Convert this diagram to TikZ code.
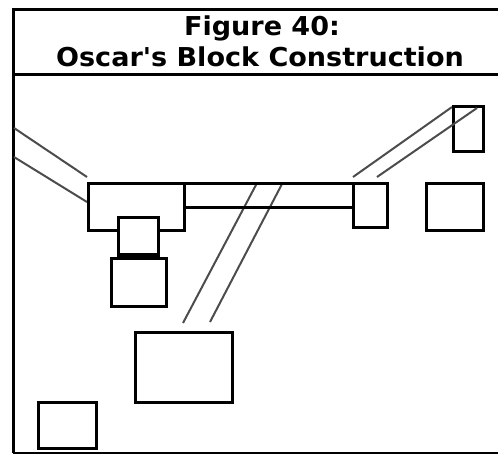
\documentclass[tikz,border=0pt]{standalone}
\usepackage{fontspec}
\newfontfamily\titlefont{DejaVu Sans}
\begin{document}
\begin{tikzpicture}[x=1pt,y=-1pt,
  blk/.style={draw=black,line width=3pt,fill=white,inner sep=0pt,outer sep=0pt,rectangle},
  wire/.style={draw=black!70,line width=2pt},
  ttl/.style={font=\titlefont\bfseries\fontsize{26}{30}\selectfont,inner sep=0pt,xscale=1.04,transform shape}]
\useasboundingbox (0,0) rectangle (498,455);
% frame
\draw[line width=3pt] (520,9) -- (13,9) -- (13,453);
\draw[line width=2pt] (13,453) -- (520,453);
\draw[line width=3pt] (13,74) -- (520,74);
% title
\node[ttl,anchor=base] (t1) at (262,35) {Figure 40:};
\node[ttl,anchor=base] (t2) at (260,66) {Oscar's Block Construction};
% connectors (drawn first, below boxes)
\coordinate (l1a) at (14,128); \coordinate (l1b) at (87,177);
\coordinate (l2a) at (14,157); \coordinate (l2b) at (87,202);
\draw[wire] (l1a) -- (l1b);
\draw[wire] (l2a) -- (l2b);
\coordinate (c1a) at (257,183); \coordinate (c1b) at (183,323);
\coordinate (c2a) at (282,184); \coordinate (c2b) at (210,322);
\draw[wire] (c1a) -- (c1b);
\draw[wire] (c2a) -- (c2b);
\coordinate (r1a) at (353,177); \coordinate (r1b) at (452,107);
\coordinate (r2a) at (377,177); \coordinate (r2b) at (477,108);
\draw[wire] (r1a) -- (r1b);
% boxes
\node[blk,fill=none,minimum width=169pt,minimum height=24pt] (bar) at (268.5,195) {};
\node[blk,minimum width=96pt,minimum height=47pt] (tl) at (136,206.5) {};
\node[blk,minimum width=40pt,minimum height=38pt] (sq) at (138,236) {};
\node[blk,minimum width=55pt,minimum height=48pt] (bx) at (138.5,282) {};
\node[blk,minimum width=34pt,minimum height=44pt] (sm) at (370,205) {};
\node[blk,minimum width=57pt,minimum height=47pt] (rb) at (454.5,206.5) {};
\node[blk,fill=none,minimum width=30pt,minimum height=45pt] (tr) at (468,128.5) {};
\draw[wire] (r2a) -- (r2b);
\node[blk,minimum width=97pt,minimum height=70pt] (big) at (183.5,367) {};
\node[blk,minimum width=58pt,minimum height=46pt] (bl) at (67,425) {};
\draw[line width=4pt] (sq.south west) -- (sq.south east);
\end{tikzpicture}
\end{document}
